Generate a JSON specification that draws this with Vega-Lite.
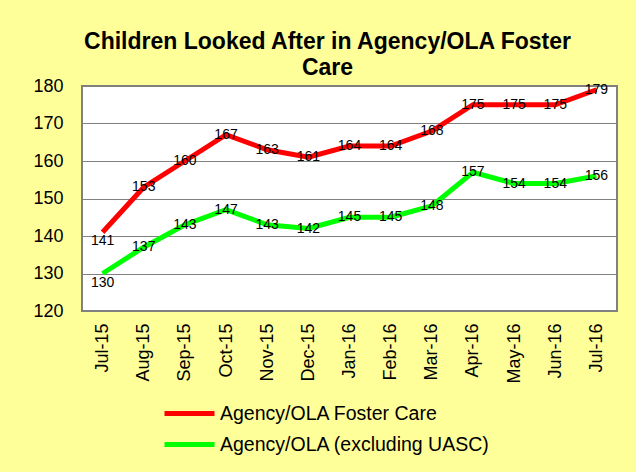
{
  "$schema": "https://vega.github.io/schema/vega-lite/v6.json",
  "width": 535,
  "height": 225,
  "autosize": {"type": "none"},
  "padding": {"left": 82, "top": 86, "right": 19, "bottom": 161},
  "background": "#FFFF99",
  "config": {
    "view": {"stroke": "#808080", "strokeWidth": 2, "fill": "white"},
    "font": "Liberation Sans"
  },
  "title": {
    "text": ["Children Looked After in Agency/OLA Foster", "Care"],
    "fontSize": 23,
    "fontWeight": "bold",
    "font": "Liberation Sans",
    "color": "black",
    "lineHeight": 26,
    "anchor": "middle",
    "frame": "group",
    "dx": -22,
    "offset": -3
  },
  "data": {
    "values": [
      {"month": "Jul-15", "series": "Agency/OLA Foster Care", "value": 141},
      {"month": "Aug-15", "series": "Agency/OLA Foster Care", "value": 153},
      {"month": "Sep-15", "series": "Agency/OLA Foster Care", "value": 160},
      {"month": "Oct-15", "series": "Agency/OLA Foster Care", "value": 167},
      {"month": "Nov-15", "series": "Agency/OLA Foster Care", "value": 163},
      {"month": "Dec-15", "series": "Agency/OLA Foster Care", "value": 161},
      {"month": "Jan-16", "series": "Agency/OLA Foster Care", "value": 164},
      {"month": "Feb-16", "series": "Agency/OLA Foster Care", "value": 164},
      {"month": "Mar-16", "series": "Agency/OLA Foster Care", "value": 168},
      {"month": "Apr-16", "series": "Agency/OLA Foster Care", "value": 175},
      {"month": "May-16", "series": "Agency/OLA Foster Care", "value": 175},
      {"month": "Jun-16", "series": "Agency/OLA Foster Care", "value": 175},
      {"month": "Jul-16", "series": "Agency/OLA Foster Care", "value": 179},
      {"month": "Jul-15", "series": "Agency/OLA (excluding UASC)", "value": 130},
      {"month": "Aug-15", "series": "Agency/OLA (excluding UASC)", "value": 137},
      {"month": "Sep-15", "series": "Agency/OLA (excluding UASC)", "value": 143},
      {"month": "Oct-15", "series": "Agency/OLA (excluding UASC)", "value": 147},
      {"month": "Nov-15", "series": "Agency/OLA (excluding UASC)", "value": 143},
      {"month": "Dec-15", "series": "Agency/OLA (excluding UASC)", "value": 142},
      {"month": "Jan-16", "series": "Agency/OLA (excluding UASC)", "value": 145},
      {"month": "Feb-16", "series": "Agency/OLA (excluding UASC)", "value": 145},
      {"month": "Mar-16", "series": "Agency/OLA (excluding UASC)", "value": 148},
      {"month": "Apr-16", "series": "Agency/OLA (excluding UASC)", "value": 157},
      {"month": "May-16", "series": "Agency/OLA (excluding UASC)", "value": 154},
      {"month": "Jun-16", "series": "Agency/OLA (excluding UASC)", "value": 154},
      {"month": "Jul-16", "series": "Agency/OLA (excluding UASC)", "value": 156}
    ]
  },
  "encoding": {
    "x": {
      "field": "month",
      "type": "ordinal",
      "sort": null,
      "scale": {"type": "point", "padding": 0.5},
      "axis": {
        "title": null,
        "labelAngle": -90,
        "labelFontSize": 18,
        "labelFont": "Liberation Sans",
        "labelColor": "black",
        "labelPadding": 12,
        "ticks": false,
        "domain": false,
        "grid": false
      }
    },
    "y": {
      "field": "value",
      "type": "quantitative",
      "scale": {"domain": [120, 180], "zero": false, "nice": false},
      "axis": {
        "title": null,
        "values": [120, 130, 140, 150, 160, 170, 180],
        "labelFontSize": 18,
        "labelFont": "Liberation Sans",
        "labelColor": "black",
        "labelPadding": 19,
        "ticks": false,
        "domain": false,
        "gridColor": "#808080",
        "gridWidth": 1.2,
        "gridOpacity": 1
      }
    }
  },
  "layer": [
    {
      "mark": {"type": "line", "strokeWidth": 5},
      "encoding": {
        "color": {
          "field": "series",
          "type": "nominal",
          "scale": {
            "domain": ["Agency/OLA Foster Care", "Agency/OLA (excluding UASC)"],
            "range": ["#FF0000", "#00FF00"]
          },
          "legend": {
            "orient": "none",
            "legendX": 80,
            "legendY": 312,
            "title": null,
            "symbolType": "stroke",
            "symbolSize": 2500,
            "symbolStrokeWidth": 5,
            "labelFontSize": 19.5,
            "labelFont": "Liberation Sans",
            "labelColor": "black",
            "labelOffset": 3,
            "labelLimit": 500,
            "clipHeight": 31,
            "rowPadding": 0
          }
        }
      }
    },
    {
      "transform": [{"filter": "datum.month !== 'Jul-15'"}],
      "mark": {"type": "text", "fontSize": 14, "font": "Liberation Sans", "color": "black", "baseline": "middle"},
      "encoding": {"text": {"field": "value", "type": "quantitative"}}
    },
    {
      "transform": [{"filter": "datum.month === 'Jul-15'"}],
      "mark": {"type": "text", "fontSize": 14, "font": "Liberation Sans", "color": "black", "baseline": "middle", "dy": 9},
      "encoding": {"text": {"field": "value", "type": "quantitative"}}
    }
  ]
}
